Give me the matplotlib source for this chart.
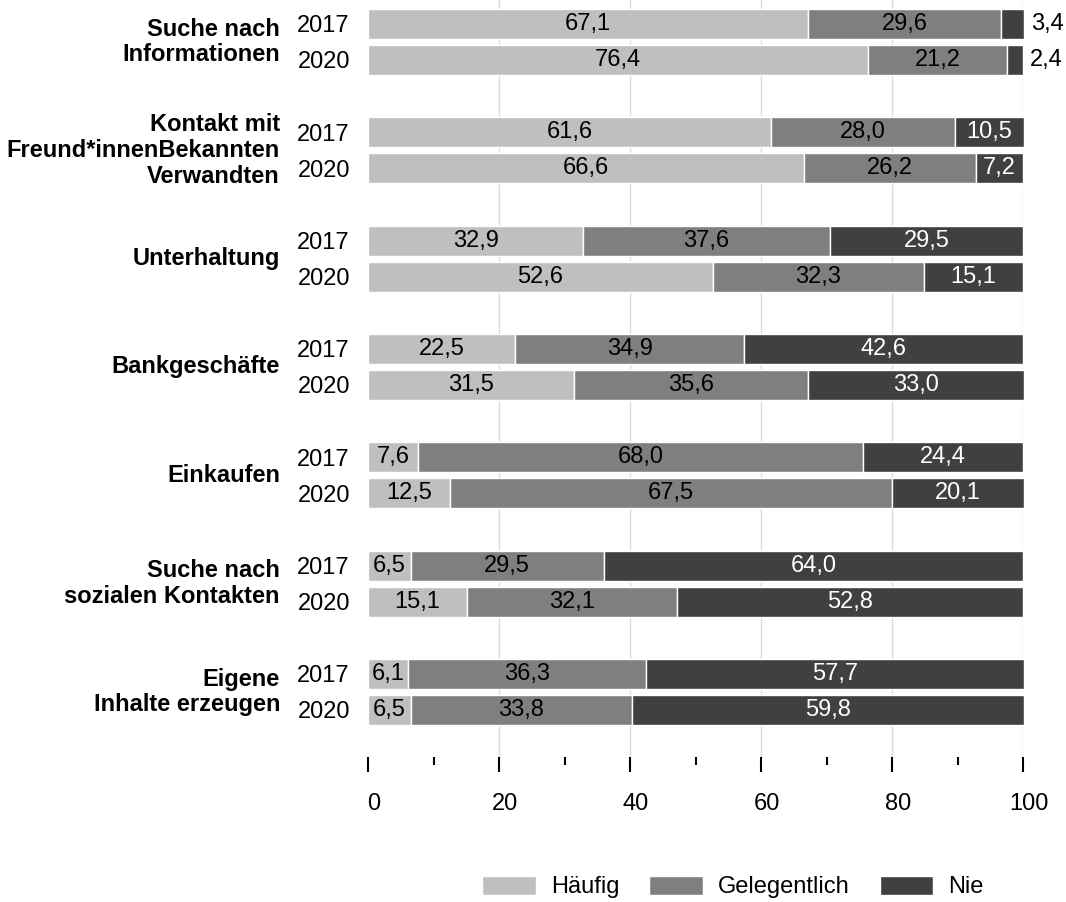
import matplotlib
matplotlib.use("Agg")
import matplotlib.pyplot as plt
import matplotlib.transforms as mtransforms
from matplotlib.patches import Patch
import numpy as np

plt.rcParams['font.family'] = ['Liberation Sans', 'DejaVu Sans']

categories = ["Suche nach\nInformationen",
              "Kontakt mit\nFreund*innenBekannten\nVerwandten",
              "Unterhaltung",
              "Bankgeschäfte",
              "Einkaufen",
              "Suche nach\nsozialen Kontakten",
              "Eigene\nInhalte erzeugen"]
years = ["2017", "2020"]
series = ["Häufig", "Gelegentlich", "Nie"]
colors = ["#bfbfbf", "#7f7f7f", "#404040"]
text_colors = ["black", "black", "white"]

haeufig_2017 = [67.1, 61.6, 32.9, 22.5, 7.6, 6.5, 6.1]
gelegentlich_2017 = [29.6, 28.0, 37.6, 34.9, 68.0, 29.5, 36.3]
nie_2017 = [3.4, 10.5, 29.5, 42.6, 24.4, 64.0, 57.7]
haeufig_2020 = [76.4, 66.6, 52.6, 31.5, 12.5, 15.1, 6.5]
gelegentlich_2020 = [21.2, 26.2, 32.3, 35.6, 67.5, 32.1, 33.8]
nie_2020 = [2.4, 7.2, 15.1, 33.0, 20.1, 52.8, 59.8]

data = {
    "2017": [haeufig_2017, gelegentlich_2017, nie_2017],
    "2020": [haeufig_2020, gelegentlich_2020, nie_2020],
}

FS = 17
W, H = 1066, 902
fig = plt.figure(figsize=(W / 100, H / 100), dpi=100)
ax_top, ax_bot = 0, 757
ax = fig.add_axes([368 / W, 1 - ax_bot / H, 655 / W, (ax_bot - ax_top) / H])
ax.set_xlim(0, 100)
ax.set_ylim(ax_bot, ax_top)

group_step = 108.33
first_center = 24
year_offset = 36
bar_h = 30

ytick_pos, ytick_lab = [], []
for gi, cat in enumerate(categories):
    for yi, yr in enumerate(years):
        yc = first_center + gi * group_step + yi * year_offset
        ytick_pos.append(yc)
        ytick_lab.append(yr)
        left = 0.0
        for si in range(3):
            v = data[yr][si][gi]
            ax.barh(yc, v, left=left, height=bar_h, color=colors[si],
                    edgecolor="white", linewidth=1, zorder=3, clip_on=False)
            lab = f"{v:.1f}".replace(".", ",")
            if v < 5:
                ax.annotate(lab, xy=(left + v, yc), xytext=(7, 0),
                            textcoords="offset pixels", ha="left", va="center",
                            fontsize=FS, color="black", zorder=4,
                            annotation_clip=False)
            else:
                ax.text(left + v / 2, yc, lab, ha="center", va="center",
                        fontsize=FS, color=text_colors[si], zorder=4)
            left += v
    gc = first_center + gi * group_step + year_offset / 2
    ax.annotate(cat, xy=(0, gc), xytext=(-88, 0), textcoords="offset pixels",
                ha="right", va="center", fontsize=FS, fontweight="bold",
                linespacing=1.15, multialignment="right", annotation_clip=False)

ax.set_yticks(ytick_pos)
ax.set_yticklabels(ytick_lab, fontsize=FS)
ax.tick_params(axis="y", length=0, pad=13)

ax.set_xticks([0, 20, 40, 60, 80, 100])
ax.set_xticks([10, 30, 50, 70, 90], minor=True)
ax.set_xticklabels(["0", "20", "40", "60", "80", "100"], fontsize=FS)
ax.tick_params(axis="x", which="major", length=11, width=1.5, pad=15,
               direction="out", color="black")
ax.tick_params(axis="x", which="minor", length=5.8, width=1.5,
               direction="out", color="black")
offset = mtransforms.ScaledTranslation(6 / 100, 0, fig.dpi_scale_trans)
for lbl in ax.get_xticklabels():
    lbl.set_transform(lbl.get_transform() + offset)

for x in [20, 40, 60, 80, 100]:
    ax.axvline(x, color="#dcdcdc", linewidth=1, zorder=1)

for s in ax.spines.values():
    s.set_visible(False)

handles = [Patch(facecolor=c, edgecolor="white", label=s) for c, s in zip(colors, series)]
fig.legend(handles=handles, loc="center", bbox_to_anchor=(733 / W, 1 - 887 / H),
           ncol=3, frameon=False, fontsize=FS, handlelength=2.25, handleheight=0.9,
           handletextpad=0.65, columnspacing=1.27)

fig.savefig("out.png", dpi=100)
